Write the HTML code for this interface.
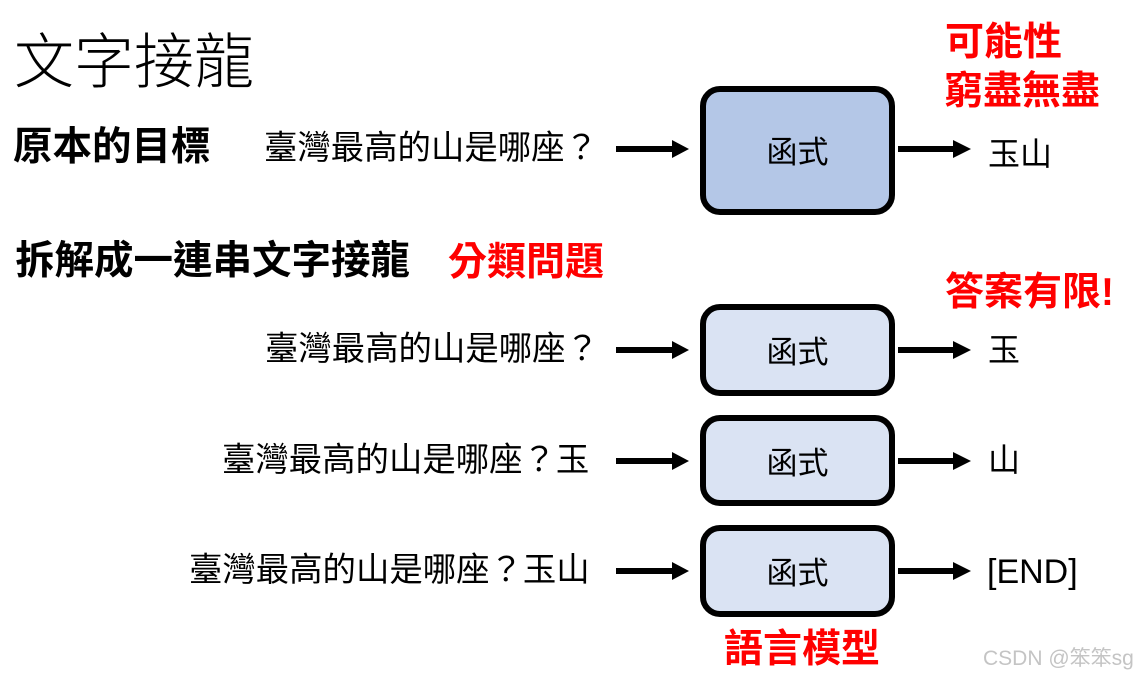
<!DOCTYPE html>
<html>
<head>
<meta charset="utf-8">
<style>
  html, body { margin: 0; padding: 0; background: #ffffff; }
  body { width: 1135px; height: 678px; overflow: hidden; }
  svg { display: block; }
  text { font-family: "Liberation Sans", "Noto Sans CJK TC", "Noto Sans CJK JP", sans-serif; }
  .q { font-size: 33.4px; fill: #000; font-weight: 400; }
  .b { font-weight: 700; }
  .red { fill: #ff0000; font-weight: 700; font-size: 39px; }
  .fn { font-size: 31px; fill: #000; }
  .out { font-size: 32px; fill: #000; }
</style>
</head>
<body>
<svg width="1135" height="678" viewBox="0 0 1135 678" xmlns="http://www.w3.org/2000/svg">
  <!-- Title -->
  <text x="14" y="83" font-size="60" font-weight="300" fill="#000">文字接龍</text>

  <!-- Row: 原本的目標 -->
  <text x="13" y="160" font-size="39.5" class="b" fill="#000">原本的目標</text>
  <text x="264" y="159" class="q">臺灣最高的山是哪座？</text>

  <!-- Red annotations top -->
  <text x="945" y="55" class="red">可能性</text>
  <text x="944" y="104" class="red">窮盡無盡</text>

  <!-- Top box -->
  <rect x="703" y="89" width="189" height="123" rx="17" ry="17" fill="#b4c7e7" stroke="#000" stroke-width="6"/>
  <text x="797.5" y="163" class="fn" text-anchor="middle">函式</text>

  <!-- Top arrows -->
  <rect x="616" y="146" width="58" height="6" fill="#000"/>
  <polygon points="672,140 689,149 672,158" fill="#000"/>
  <rect x="898" y="146" width="57" height="6" fill="#000"/>
  <polygon points="953,140 971,149 953,158" fill="#000"/>
  <text x="988" y="165" class="out">玉山</text>

  <!-- Section 2 heading -->
  <text x="15" y="274" font-size="39.5" class="b" fill="#000">拆解成一連串文字接龍</text>
  <text x="448" y="275" class="red">分類問題</text>
  <text x="945" y="305" class="red">答案有限!</text>

  <!-- Row 1 -->
  <text x="265" y="360" class="q">臺灣最高的山是哪座？</text>
  <rect x="616" y="347" width="58" height="6" fill="#000"/>
  <polygon points="672,341 689,350 672,359" fill="#000"/>
  <rect x="703" y="307" width="189" height="86" rx="17" ry="17" fill="#dae3f3" stroke="#000" stroke-width="6"/>
  <text x="797.5" y="363" class="fn" text-anchor="middle">函式</text>
  <rect x="898" y="347" width="57" height="6" fill="#000"/>
  <polygon points="953,341 971,350 953,359" fill="#000"/>
  <text x="988" y="361" class="out">玉</text>

  <!-- Row 2 -->
  <text x="222" y="471" class="q">臺灣最高的山是哪座？玉</text>
  <rect x="616" y="458" width="58" height="6" fill="#000"/>
  <polygon points="672,452 689,461 672,470" fill="#000"/>
  <rect x="703" y="418" width="189" height="85" rx="17" ry="17" fill="#dae3f3" stroke="#000" stroke-width="6"/>
  <text x="797.5" y="474" class="fn" text-anchor="middle">函式</text>
  <rect x="898" y="458" width="57" height="6" fill="#000"/>
  <polygon points="953,452 971,461 953,470" fill="#000"/>
  <text x="988" y="471" class="out">山</text>

  <!-- Row 3 -->
  <text x="189" y="581" class="q">臺灣最高的山是哪座？玉山</text>
  <rect x="616" y="568" width="58" height="6" fill="#000"/>
  <polygon points="672,562 689,571 672,580" fill="#000"/>
  <rect x="703" y="528" width="189" height="86" rx="17" ry="17" fill="#dae3f3" stroke="#000" stroke-width="6"/>
  <text x="797.5" y="584" class="fn" text-anchor="middle">函式</text>
  <rect x="898" y="568" width="57" height="6" fill="#000"/>
  <polygon points="953,562 971,571 953,580" fill="#000"/>
  <text x="987" y="583" font-size="34" fill="#000">[END]</text>

  <!-- Bottom label -->
  <text x="724" y="662" class="red">語言模型</text>

  <!-- Watermark -->
  <text x="983" y="665" font-size="21" fill="#c4c4c4">CSDN @笨笨sg</text>
</svg>
</body>
</html>
